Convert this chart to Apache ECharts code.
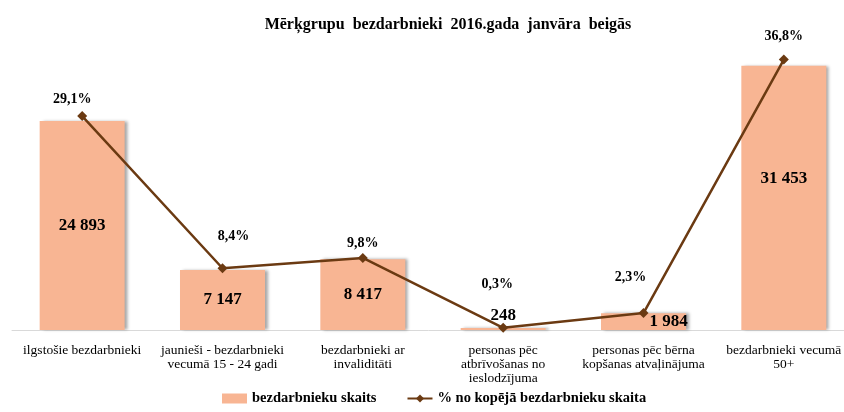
<!DOCTYPE html>
<html>
<head>
<meta charset="utf-8">
<script src="https://cdn.jsdelivr.net/npm/echarts@6/dist/echarts.min.js"></script>
<style>
  html, body { margin: 0; padding: 0; background: #fff; }
  #main { width: 844px; height: 412px; }
</style>
</head>
<body>
<div id="main"></div>
<script>
// dati
var categories = [
  'ilgstošie bezdarbnieki',
  'jaunieši - bezdarbnieki\nvecumā 15 - 24 gadi',
  'bezdarbnieki ar\ninvaliditāti',
  'personas pēc\natbrīvošanas no\nieslodzījuma',
  'personas pēc bērna\nkopšanas atvaļinājuma',
  'bezdarbnieki vecumā\n50+'
];
var countValues = [24893, 7147, 8417, 248, 1984, 31453];
var shareValues = [29.1, 8.4, 9.8, 0.3, 2.3, 36.8];

// etiķešu novietojums (kā oriģinālā)
var shareLabelOffsets = [[-10, 0], [11, -15], [0, 2], [-6, -26], [-13, -19], [0, -6]];

var font = '"Liberation Serif", "Times New Roman", serif';
var barColor = '#F8B593';
var lineColor = '#6B3A12';

function fmtNum(v) {
  return String(v).replace(/\B(?=(\d{3})+(?!\d))/g, ' ');
}

var barData = countValues.map(function (v, i) {
  var item = { value: v };
  if (i === 3) {
    item.label = { position: 'top', distance: 4 };
  } else if (i === 4) {
    item.label = { offset: [25, 0] };
  } else if (i === 5) {
    item.label = { offset: [0, -19] };
  }
  return item;
});

var lineData = shareValues.map(function (v, i) {
  return { value: v, label: { offset: shareLabelOffsets[i] } };
});

var myChart = echarts.init(document.getElementById('main'));
var option = {
  animation: false,
  textStyle: { fontFamily: font },
  title: {
    text: 'Mērķgrupu  bezdarbnieki  2016.gada  janvāra  beigās',
    left: 443,
    top: 12,
    textAlign: 'center',
    textStyle: { fontFamily: font, fontSize: 16, fontWeight: 'bold', color: '#000' }
  },
  legend: {
    bottom: 1,
    left: 217,
    itemWidth: 25,
    itemHeight: 10,
    itemGap: 30,
    textStyle: { fontFamily: font, fontSize: 14.5, fontWeight: 'bold', color: '#000' },
    data: [
      { name: 'bezdarbnieku skaits', icon: 'rect' },
      { name: '% no kopējā bezdarbnieku skaita' }
    ]
  },
  grid: { left: 12, width: 842, top: 36, bottom: 82, containLabel: false, outerBoundsMode: 'none' },
  xAxis: {
    type: 'category',
    data: categories,
    axisLine: { lineStyle: { color: '#D9D9D9', width: 1 } },
    axisTick: { show: false },
    axisLabel: {
      interval: 0,
      margin: 13,
      fontFamily: font,
      fontSize: 13.5,
      lineHeight: 14,
      color: '#000'
    }
  },
  yAxis: [
    { type: 'value', min: 0, max: 35000, show: false, splitLine: { show: false } },
    { type: 'value', min: 0, max: 40, show: false, splitLine: { show: false } }
  ],
  series: [
    {
      name: 'bezdarbnieku skaits',
      type: 'bar',
      barWidth: 85,
      data: barData,
      itemStyle: {
        color: barColor,
        shadowColor: 'rgba(0,0,0,0.35)',
        shadowBlur: 3,
        shadowOffsetX: 3,
        shadowOffsetY: 0
      },
      label: {
        show: true,
        position: 'inside',
        fontFamily: font,
        fontSize: 17,
        fontWeight: 'bold',
        color: '#000',
        formatter: function (p) { return fmtNum(p.value); }
      }
    },
    {
      name: '% no kopējā bezdarbnieku skaita',
      type: 'line',
      yAxisIndex: 1,
      data: lineData,
      symbol: 'diamond',
      symbolSize: 10,
      lineStyle: { color: lineColor, width: 2.5 },
      itemStyle: { color: lineColor },
      label: {
        show: true,
        position: 'top',
        fontFamily: font,
        fontSize: 14,
        fontWeight: 'bold',
        color: '#000',
        formatter: function (p) { return p.value.toFixed(1).replace('.', ',') + '%'; }
      }
    }
  ]
};
myChart.setOption(option);
</script>
</body>
</html>
